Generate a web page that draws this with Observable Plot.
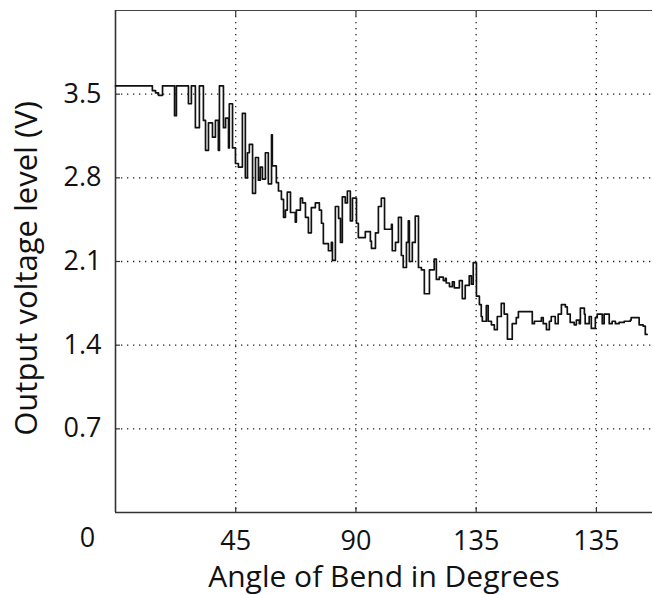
<!DOCTYPE html>
<html>
<head>
<meta charset="utf-8">
<script src="https://cdn.jsdelivr.net/npm/d3@7"></script>
<script src="https://cdn.jsdelivr.net/npm/@observablehq/plot@0.6"></script>
<style>
  html, body { margin: 0; padding: 0; background: #fff; }
  #chart svg { display: block; }
</style>
</head>
<body>
<div id="chart"></div>
<script>
// Angle of bend (degrees) where each step of the reading starts
const angleDeg = [
  0, 13.8, 15.0, 16.1, 17.6, 22.1, 22.8, 27.3, 28.4, 29.2, 29.9, 31.4,
  31.8, 32.9, 33.7, 34.8, 36.3, 37.4, 38.5, 38.9, 40.4, 41.2, 42.3, 42.6,
  43.8, 44.9, 46.0, 47.5, 48.6, 49.4, 50.1, 51.3, 52.4, 53.5, 54.2, 55.0,
  56.1, 57.2, 58.4, 58.7, 60.2, 61.0, 62.1, 62.9, 63.6, 64.3, 65.5, 67.3,
  67.7, 69.2, 70.0, 71.1, 72.2, 73.3, 74.8, 76.3, 77.1, 77.8, 79.7, 80.8,
  81.2, 82.3, 83.5, 84.2, 84.9, 86.0, 86.8, 87.9, 88.7, 90.2, 90.9, 93.5,
  95.4, 95.8, 97.3, 98.4, 99.5, 100.7, 103.3, 103.6, 104.8, 105.9, 107.0, 107.7,
  108.9, 109.6, 110.0, 111.1, 112.2, 113.4, 114.5, 115.6, 117.5, 119.3, 120.1, 121.2,
  122.7, 123.5, 123.8, 125.0, 126.1, 126.8, 128.7, 129.8, 130.9, 132.4, 133.2, 133.9,
  135.1, 136.2, 136.9, 137.3, 138.8, 139.5, 140.7, 141.8, 142.9, 144.4, 145.5, 146.7,
  148.5, 150.0, 150.8, 156.0, 156.8, 159.4, 160.1, 161.3, 162.4, 163.1, 164.6, 165.7,
  166.9, 168.4, 169.1, 170.2, 171.7, 172.5, 173.6, 174.0, 175.5, 175.8, 177.3, 178.1,
  179.6, 180.3, 182.2, 182.9, 184.8, 185.9, 187.1, 188.5, 190.4, 192.7, 193.0, 196.0,
  197.5, 198.3, 199.0
];
// Output voltage (V) for each step
const voltage = [
  3.57, 3.53, 3.51, 3.49, 3.57, 3.32, 3.57, 3.42, 3.57, 3.57, 3.22, 3.57,
  3.57, 3.28, 3.03, 3.26, 3.14, 3.28, 3.03, 3.57, 3.22, 3.30, 3.05, 3.42,
  3.05, 2.92, 2.89, 3.34, 2.80, 3.01, 3.08, 2.67, 2.97, 2.78, 2.89, 2.79,
  3.01, 2.75, 3.16, 2.90, 2.76, 2.69, 2.62, 2.47, 2.53, 2.68, 2.51, 2.43,
  2.53, 2.63, 2.59, 2.47, 2.34, 2.55, 2.59, 2.53, 2.42, 2.25, 2.19, 2.26,
  2.11, 2.56, 2.46, 2.26, 2.64, 2.59, 2.69, 2.44, 2.63, 2.42, 2.30, 2.35,
  2.27, 2.21, 2.34, 2.56, 2.63, 2.37, 2.41, 2.19, 2.26, 2.47, 2.15, 2.05,
  2.26, 2.44, 2.10, 2.26, 2.48, 2.05, 2.03, 1.83, 2.03, 2.12, 1.95, 1.97,
  1.94, 1.96, 1.92, 1.89, 1.93, 1.88, 1.94, 1.79, 1.90, 1.98, 1.91, 2.09,
  1.81, 1.74, 1.64, 1.60, 1.73, 1.60, 1.57, 1.53, 1.64, 1.75, 1.66, 1.45,
  1.58, 1.63, 1.68, 1.58, 1.60, 1.63, 1.58, 1.53, 1.60, 1.64, 1.58, 1.66,
  1.74, 1.72, 1.66, 1.59, 1.57, 1.61, 1.58, 1.71, 1.66, 1.58, 1.64, 1.54,
  1.63, 1.66, 1.58, 1.66, 1.58, 1.60, 1.58, 1.59, 1.60, 1.61, 1.63, 1.57,
  1.56, 1.49, 1.49
];

const xTicks = [45, 90, 135, 180];
const xTickLabels = ["45", "90", "135", "135"];
const yTicks = [0.7, 1.4, 2.1, 2.8, 3.5];
const yTickLabels = ["0.7", "1.4", "2.1", "2.8", "3.5"];
const xTitle = "Angle of Bend in Degrees";
const yTitle = "Output voltage level (V)";
const zeroLabel = "0";

const data = angleDeg.map((a, i) => ({angle: a, volts: voltage[i]}));

const W = 653, H = 595;
const mL = 115, mR = 1, mT = 10, mB = 83;
const innerW = W - mL - mR, innerH = H - mT - mB;
const FONT = "'Open Sans', 'Noto Sans', sans-serif";
const dotted = {stroke: "#222", strokeWidth: 1.3, strokeDasharray: "1.3,4.7", strokeOpacity: 1};

const chart = Plot.plot({
  width: W,
  height: H,
  marginLeft: mL,
  marginRight: mR,
  marginTop: mT,
  marginBottom: mB,
  style: {fontFamily: FONT, fontSize: "27px", color: "#111", background: "#fff"},
  x: {domain: [0, 201]},
  y: {domain: [0, 4.2]},
  marks: [
    Plot.gridX(xTicks, dotted),
    Plot.gridY(yTicks, dotted),
    Plot.tickX(xTicks, {x: d => d, stroke: "#333", strokeWidth: 1.2, insetTop: innerH - 5}),
    Plot.tickX(xTicks, {x: d => d, stroke: "#333", strokeWidth: 1.2, insetBottom: innerH - 6}),
    Plot.tickY(yTicks, {y: d => d, stroke: "#333", strokeWidth: 1.2, insetRight: innerW - 5}),
    Plot.ruleY([4.2], {stroke: "#444", strokeWidth: 1}),
    Plot.ruleY([0], {stroke: "#333", strokeWidth: 1.6}),
    Plot.ruleX([0], {stroke: "#333", strokeWidth: 1.6}),
    Plot.line(data, {x: "angle", y: "volts", curve: "step-after", stroke: "#111", strokeWidth: 1.7}),
    Plot.axisX(xTicks, {
      tickSize: 0, tickPadding: 18, label: null,
      tickFormat: d => xTickLabels[xTicks.indexOf(d)], fontSize: 27
    }),
    Plot.axisY(yTicks, {
      tickSize: 0, tickPadding: 14, label: null,
      tickFormat: d => yTickLabels[yTicks.indexOf(d)], fontSize: 27
    }),
    Plot.text([xTitle], {text: d => d, frameAnchor: "bottom", textAnchor: "middle", dy: 74, lineAnchor: "bottom", fontSize: 30, fill: "#111"}),
    Plot.text([yTitle], {text: d => d, frameAnchor: "left", textAnchor: "middle", dx: -88, dy: 7, rotate: -90, lineAnchor: "middle", fontSize: 31, fill: "#111"}),
    Plot.text([zeroLabel], {text: d => d, frameAnchor: "bottom-left", textAnchor: "middle", dx: -28, dy: 26, lineAnchor: "middle", fontSize: 27, fill: "#111"})
  ]
});

document.getElementById("chart").appendChild(chart);
</script>
</body>
</html>
